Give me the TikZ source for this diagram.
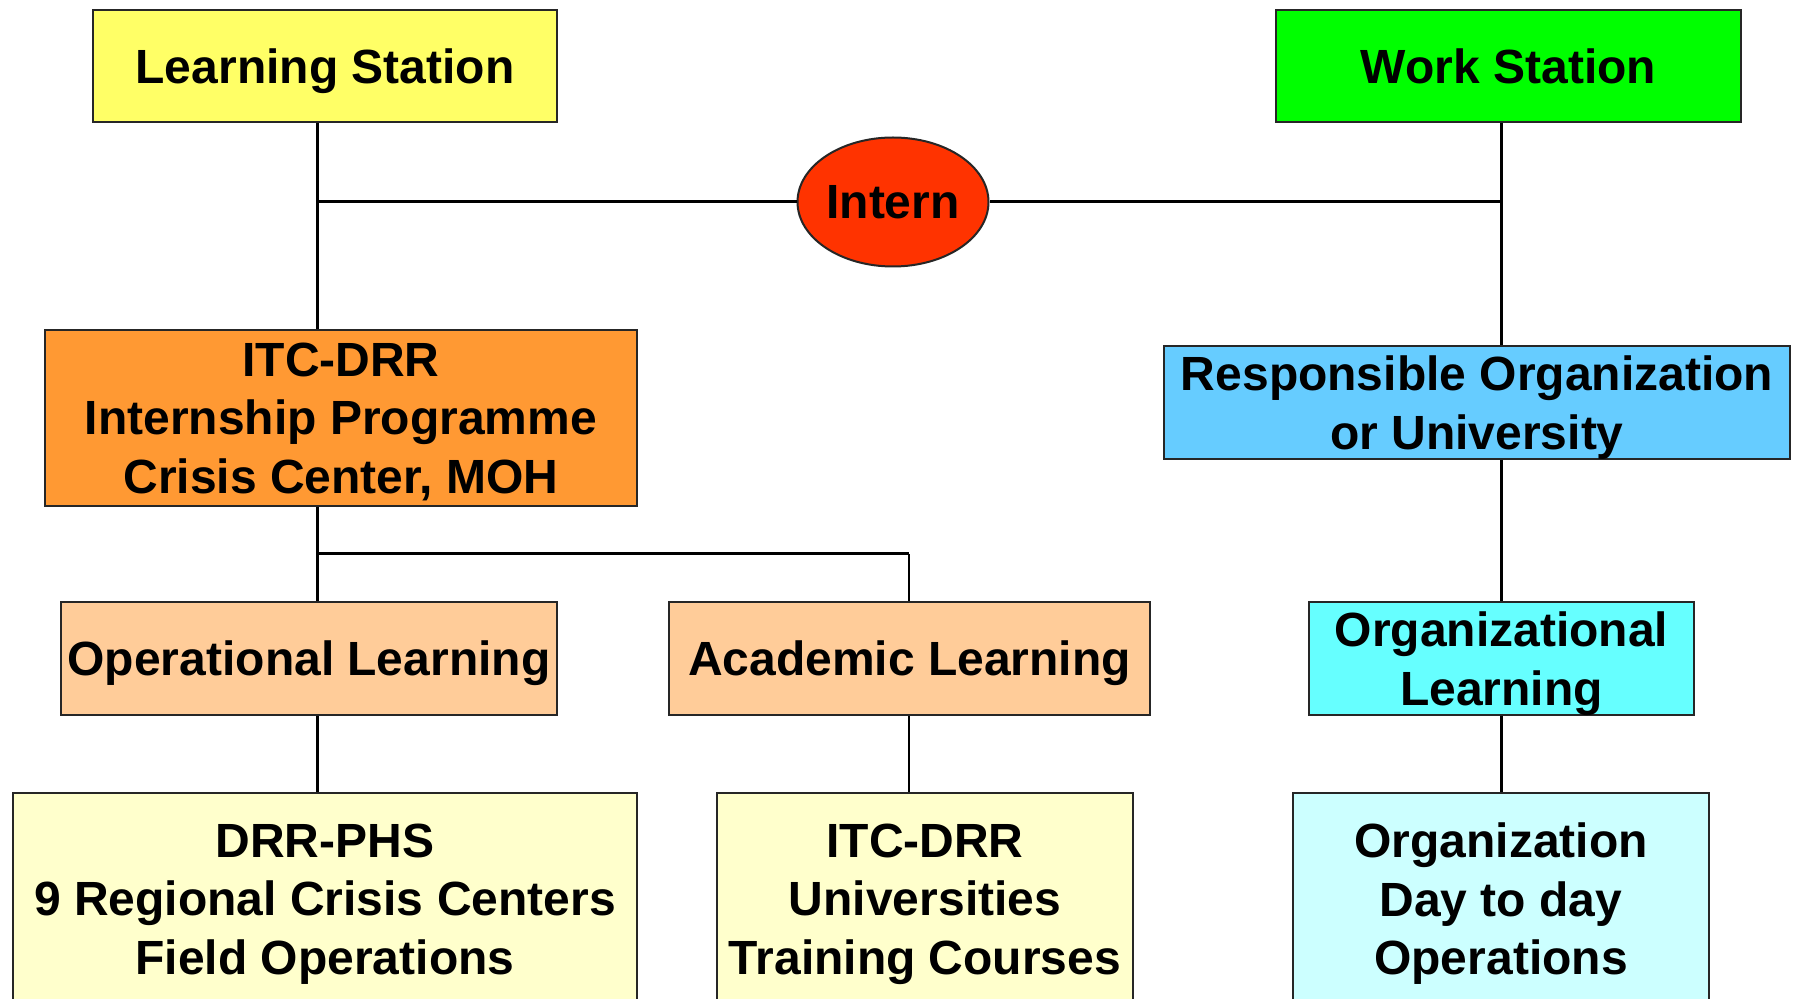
\documentclass[tikz,border=0pt]{standalone}
\usepackage{fontspec}
\setmainfont{Liberation Sans}
\usetikzlibrary{shapes.geometric,calc}
\definecolor{cYellow}{HTML}{FFFF66}
\definecolor{cGreen}{HTML}{00FF00}
\definecolor{cRed}{HTML}{FF3300}
\definecolor{cOrange}{HTML}{FF9933}
\definecolor{cPeach}{HTML}{FFCC99}
\definecolor{cBlue}{HTML}{66CCFF}
\definecolor{cCyan}{HTML}{66FFFF}
\definecolor{cPaleY}{HTML}{FFFFCC}
\definecolor{cPaleC}{HTML}{CCFFFF}
\tikzset{
  box/.style={draw=black!85, line width=1pt, rectangle, inner sep=0pt, align=center,
    text depth=0pt, font=\fontsize{24}{29.2}\selectfont\bfseries},
  conn/.style={draw=black, line width=1.1pt},
  hconn/.style={draw=black, line width=1.5pt},
}
\begin{document}
\begin{tikzpicture}[x=0.5pt,y=-0.5pt]
\useasboundingbox (0,0) rectangle (1793,999);
\clip (0,0) rectangle (1793,999);
\fill[white] (0,0) rectangle (1793,999);
% top row
\node[box, fill=cYellow, minimum width=232pt, minimum height=56pt] (LS) at (325,66) {Learning Station};
\node[box, fill=cGreen, minimum width=232.5pt, minimum height=56pt] (WS) at (1508.5,66) {Work Station};
\node[box, ellipse, fill=cRed, minimum width=95.5pt, minimum height=64.5pt] (IN) at (893,202) {Intern};
% second row
\node[box, fill=cOrange, minimum width=296pt, minimum height=88pt] (ITC) at (341,418) {ITC-DRR\\Internship Programme\\Crisis Center, MOH};
\node[box, fill=cBlue, minimum width=313pt, minimum height=56.5pt] (RO) at (1477,402.5) {Responsible Organization\\or University};
% third row
\node[box, fill=cPeach, minimum width=248pt, minimum height=56.5pt] (OL) at (309,658.5) {Operational Learning};
\node[box, fill=cPeach, minimum width=240.5pt, minimum height=56.5pt] (AL) at (909.5,658.5) {Academic Learning};
\node[box, fill=cCyan, minimum width=192.5pt, minimum height=56.5pt] (OG) at (1501.5,658.5) {Organizational\\Learning};
% bottom row
\node[box, fill=cPaleY, minimum width=312pt, minimum height=106pt] (DRR) at (325,899) {DRR-PHS\\9 Regional Crisis Centers\\Field Operations};
\node[box, fill=cPaleY, minimum width=208pt, minimum height=106pt] (UNI) at (925,899) {ITC-DRR\\Universities\\Training Courses};
\node[box, fill=cPaleC, minimum width=208pt, minimum height=106pt] (ORG) at (1501,899) {Organization\\Day to day\\Operations};
% connector guide coordinates
\coordinate (xL) at (317.5,0);
\coordinate (xA) at (909,0);
\coordinate (xR) at (1501.5,0);
\coordinate (jL) at (317.5,202);
\coordinate (jR) at (1501.5,202);
\coordinate (jB) at (317.5,554);
\coordinate (jA) at (909,554);
% connectors
\draw[conn] (LS.south -| xL) -- (ITC.north -| xL);
\draw[hconn] (jL) -- (IN.west);
\draw[hconn] (IN.east) -- (jR);
\draw[conn] (WS.south -| xR) -- (RO.north -| xR);
\draw[conn] (ITC.south -| xL) -- (OL.north -| xL);
\draw[hconn] (jB) -- (jA);
\draw[conn] (jA) -- (AL.north -| xA);
\draw[conn] (OL.south -| xL) -- (DRR.north -| xL);
\draw[conn] (AL.south -| xA) -- (UNI.north -| xA);
\draw[conn] (RO.south -| xR) -- (OG.north -| xR);
\draw[conn] (OG.south -| xR) -- (ORG.north -| xR);
\end{tikzpicture}
\end{document}
